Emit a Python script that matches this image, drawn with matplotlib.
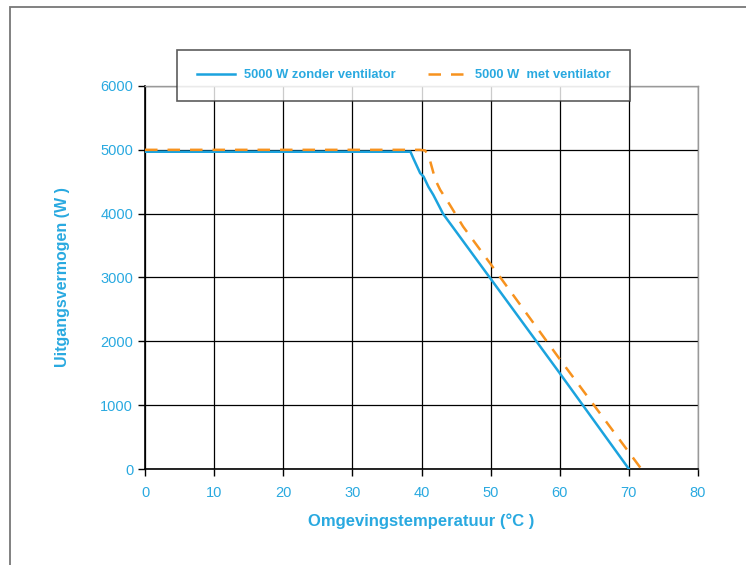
import matplotlib
matplotlib.use("Agg")
import matplotlib.pyplot as plt
from matplotlib.patches import Rectangle

# data
temp_zonder = [0, 38.4, 38.8, 39.8, 40.3, 41.0, 41.7, 42.7, 43.1, 50, 60, 70]
power_zonder = [4970, 4970, 4870, 4635, 4580, 4420, 4295, 4086, 4000, 2980, 1500, 0]
temp_met = [0, 39.8, 40.5, 41.0, 42.0, 42.7, 44.1, 46.0, 50, 60, 71.8]
power_met = [5000, 5000, 4990, 4920, 4530, 4373, 4138, 3800, 3210, 1720, 0]

label_zonder = "5000 W zonder ventilator"
label_met = "5000 W  met ventilator"
x_ticks = [0, 10, 20, 30, 40, 50, 60, 70, 80]
y_ticks = [0, 1000, 2000, 3000, 4000, 5000, 6000]

BLUE = "#1BA3DE"
ORANGE = "#F7921E"
TEXT = "#29A9E0"

plt.rcParams['font.family'] = ['Liberation Sans', 'DejaVu Sans']

fig = plt.figure(figsize=(7.46, 5.65), dpi=100)
ax = fig.add_axes([0.1944, 0.1699, 0.7413, 0.6779])

# outer frame of the original picture (cut off at right and bottom)
fig.patches.append(Rectangle((0.0134, -0.1), 1.1, 1.088, transform=fig.transFigure,
                             fill=False, edgecolor="#777777", linewidth=1.3))

ax.plot(temp_zonder, power_zonder, color=BLUE, linewidth=1.8, label=label_zonder, zorder=3)
ax.plot(temp_met, power_met, color=ORANGE, linewidth=1.8, linestyle=(0, (5, 4)),
        label=label_met, zorder=3)

ax.set_xlim(0, 80)
ax.set_ylim(0, 6000)
ax.set_xticks(x_ticks)
ax.set_yticks(y_ticks)
ax.grid(True, color="black", linewidth=0.9)
ax.set_axisbelow(True)

for side in ["left", "bottom"]:
    ax.spines[side].set_color("black")
    ax.spines[side].set_linewidth(1.2)
for side in ["top", "right"]:
    ax.spines[side].set_color("#999999")
    ax.spines[side].set_linewidth(1.0)

ax.tick_params(axis="both", direction="out", length=5, width=1, color="black",
               labelcolor=TEXT, labelsize=10.5)
ax.tick_params(axis="x", pad=7)

ax.set_xlabel("Omgevingstemperatuur (°C )", color=TEXT, fontsize=12,
              fontweight="bold", labelpad=10)
ax.set_ylabel("Uitgangsvermogen (W )", color=TEXT, fontsize=11.5,
              fontweight="bold", labelpad=22)

leg = fig.legend(loc="center", bbox_to_anchor=(0.541, 0.867), ncol=2,
                 frameon=True, fancybox=False, fontsize=9.3, handlelength=3.0,
                 columnspacing=2.5, borderpad=1.5, handletextpad=0.65)
leg.get_frame().set_edgecolor("#333333")
leg.get_frame().set_linewidth(1.2)
for t in leg.get_texts():
    t.set_color(TEXT)
    t.set_fontweight("bold")

fig.savefig("out.png", dpi=100)
